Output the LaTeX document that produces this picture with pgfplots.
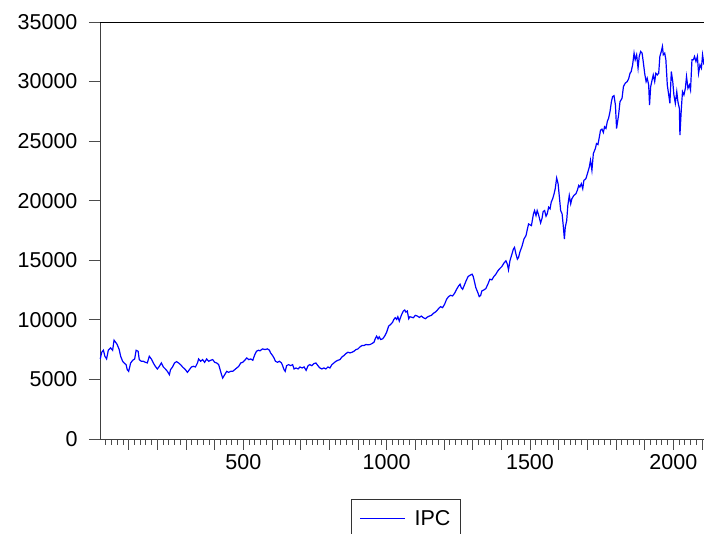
\documentclass[border=0pt]{standalone}
\usepackage{pgfplots}
\pgfplotsset{compat=1.18}
\usepackage{fontspec}
\setmainfont{Liberation Sans}
\begin{document}
\begin{tikzpicture}
\begin{axis}[
  scale only axis,
  width=604pt, height=417pt,
  xmin=0, xmax=2107, ymin=0, ymax=35000,
  axis lines=left,
  axis line style={-, line width=0.9pt, black!75},
  clip=false,
  tick align=outside,
  major tick length=11pt,
  minor tick length=6pt,
  tick style={line width=0.8pt, black!70},
  xtick={500,1000,1500,2000},
  extra x ticks={100,200,300,400,600,700,800,900,1100,1200,1300,1400,1600,1700,1800,1900,2100},
  extra x tick labels={},
  minor xtick={20,40,...,2100},
  ytick={0,5000,...,35000},
  scaled y ticks=false,
  scaled x ticks=false,
  /pgf/number format/assume math mode=true,
  /pgf/number format/1000 sep={},
  tick label style={font=\fontsize{21.5}{25}\selectfont},
  yticklabel style={xshift=-8pt},
  xticklabel style={yshift=-1pt},
  legend style={at={(0.5066,-0.1439)}, anchor=north, draw=black!80, line width=0.9pt,
    font=\fontsize{21.5}{25}\selectfont, inner xsep=8pt, inner ysep=9pt},
  legend cell align=left,
  legend image code/.code={\draw[blue, line width=1pt] (0pt,0pt) -- (45pt,0pt); \path (52pt,0pt);},
]
\addplot[blue, line width=1.2pt] coordinates {
(1,6719)(6,7282)(12,7450)(17,6944)(23,6719)(29,7450)(37,7647)(44,7450)(49,8294)(56,8069)(60,7928)(67,7507)(72,6944)(79,6523)(84,6382)(91,6241)(95,5820)(100,5679)(107,6382)(114,6607)(121,6719)(126,7450)(133,7366)(137,6663)(144,6523)(151,6523)(158,6438)(165,6382)(172,6944)(179,6719)(186,6382)(193,6101)(200,5876)(207,6101)(214,6382)(221,6045)(228,5876)(235,5679)(242,5398)(246,5820)(253,6045)(260,6382)(267,6495)(274,6382)(281,6241)(288,6045)(298,5820)(305,5595)(312,5820)(319,6045)(326,6101)(333,6045)(340,6382)(344,6719)(351,6523)(358,6663)(365,6438)(372,6719)(379,6523)(386,6607)(393,6663)(400,6438)(407,6382)(414,6241)(419,5820)(423,5483)(428,5117)(435,5398)(442,5679)(449,5595)(456,5679)(463,5679)(470,5820)(477,5960)(484,6101)(491,6382)(498,6438)(505,6607)(512,6804)(519,6663)(526,6719)(533,6607)(540,7085)(546,7366)(553,7450)(558,7400)
(567,7563)(576,7507)(584,7563)(591,7451)(595,7226)(602,7001)(607,6805)(612,6523)(619,6439)(626,6523)(633,6383)(637,6158)(642,5821)(646,5680)(651,6158)(658,6242)(665,6158)(672,6242)(677,5877)(684,5961)(691,5877)(698,6045)(705,5961)(712,6045)(719,5764)(726,6158)(732,6242)(739,6158)(746,6326)(753,6383)(760,6158)(767,5961)(774,5877)(781,5961)(788,5877)(795,6045)(802,5961)(809,6242)(816,6383)(823,6523)(830,6607)(837,6664)(844,6889)(851,7001)(858,7170)(865,7282)(872,7226)(879,7282)(886,7367)(893,7507)(900,7563)(907,7732)(914,7845)(921,7845)(928,7929)(935,7901)(942,7929)(949,8013)(956,8126)(960,8407)(965,8632)(970,8407)(974,8576)(979,8351)(986,8407)(993,8632)(1000,8969)(1007,9475)(1014,9616)(1021,9813)(1025,10037)(1030,10178)(1035,10037)(1039,10262)(1044,9897)(1051,10374)(1058,10740)(1063,10824)(1067,10656)(1072,10740)(1077,10093)(1081,10262)
(1093,10179)(1100,10375)(1107,10319)(1114,10207)(1121,10319)(1128,10179)(1135,10094)(1142,10235)(1149,10319)(1156,10375)(1163,10544)(1170,10656)(1177,10825)(1184,11022)(1188,11106)(1195,11022)(1202,11303)(1209,11725)(1216,11950)(1223,12062)(1230,12006)(1237,12231)(1244,12568)(1251,12849)(1256,12990)(1260,12709)(1265,12568)(1270,12849)(1277,13271)(1284,13636)(1291,13749)(1298,13833)(1302,13636)(1307,13130)(1311,12709)(1318,12287)(1323,11950)(1328,12062)(1332,12427)(1339,12512)(1346,12624)(1353,12990)(1360,13411)(1367,13355)(1374,13636)(1381,13833)(1388,14114)(1395,14311)(1402,14479)(1409,14761)(1416,14957)(1421,14676)(1425,14199)(1430,14957)(1437,15520)(1442,15941)(1446,16082)(1451,15520)(1456,15098)(1460,15239)(1465,15716)(1472,16166)(1479,16784)(1486,17066)(1491,17628)(1495,18049)
(1505,17910)(1512,18894)(1516,19175)(1521,18753)(1525,19175)(1530,18810)(1537,18135)(1542,18529)(1546,19091)(1551,19175)(1556,18697)(1560,18894)(1565,19455)(1570,19315)(1574,19878)(1579,20159)(1584,20580)(1588,21002)(1593,21902)(1598,21424)(1602,20440)(1607,19175)(1612,18894)(1616,17910)(1620,16786)(1623,17770)(1628,18332)(1632,19596)(1637,20440)(1642,19737)(1646,20159)(1653,20440)(1660,20580)(1665,20862)(1670,21283)(1674,21143)(1679,21424)(1684,21002)(1688,21705)(1695,21845)(1702,22408)(1707,22829)(1711,23391)(1716,22548)(1721,23954)(1728,24375)(1732,24797)(1737,24713)(1742,25359)(1746,25921)(1751,26006)(1756,25725)(1760,26203)(1765,26062)(1770,26680)(1774,26905)(1779,27467)(1784,28311)(1788,28732)(1793,28817)(1798,28030)(1802,26062)
(1809,27186)(1814,28313)(1821,28592)(1826,29575)(1832,29857)(1839,29997)(1844,30222)(1849,30700)(1853,30840)(1858,31403)(1863,32386)(1867,31824)(1872,32246)(1877,31122)(1881,32105)(1886,32527)(1891,32386)(1895,31684)(1900,30700)(1905,29997)(1909,30278)(1914,29716)(1917,28029)(1921,29575)(1926,30138)(1930,30559)(1935,29997)(1939,30700)(1944,30559)(1949,30700)(1953,32105)(1958,32527)(1962,32949)(1965,32246)(1970,32386)(1974,31824)(1979,29716)(1984,28873)(1988,28170)(1993,30840)(1998,29997)(2002,28873)(2007,28170)(2012,29154)(2016,28313)(2021,27748)(2023,25500)(2028,27748)(2032,29154)(2037,28873)(2042,29435)(2046,30419)(2051,29435)(2056,29716)(2060,29294)(2065,31824)(2070,31824)(2074,32105)(2079,31684)(2084,32105)(2088,30700)(2093,31403)(2098,31122)(2102,32246)(2107,31403)
};
\addlegendentry{IPC}
\draw[black, line width=0.9pt] (rel axis cs:0,1) -- (rel axis cs:1,1);
\coordinate (O) at (rel axis cs:0,0);
\end{axis}
\pgfresetboundingbox
\path[use as bounding box] (O) ++(-100pt,-95pt) rectangle ++(704pt,534pt);
\end{tikzpicture}
\end{document}
